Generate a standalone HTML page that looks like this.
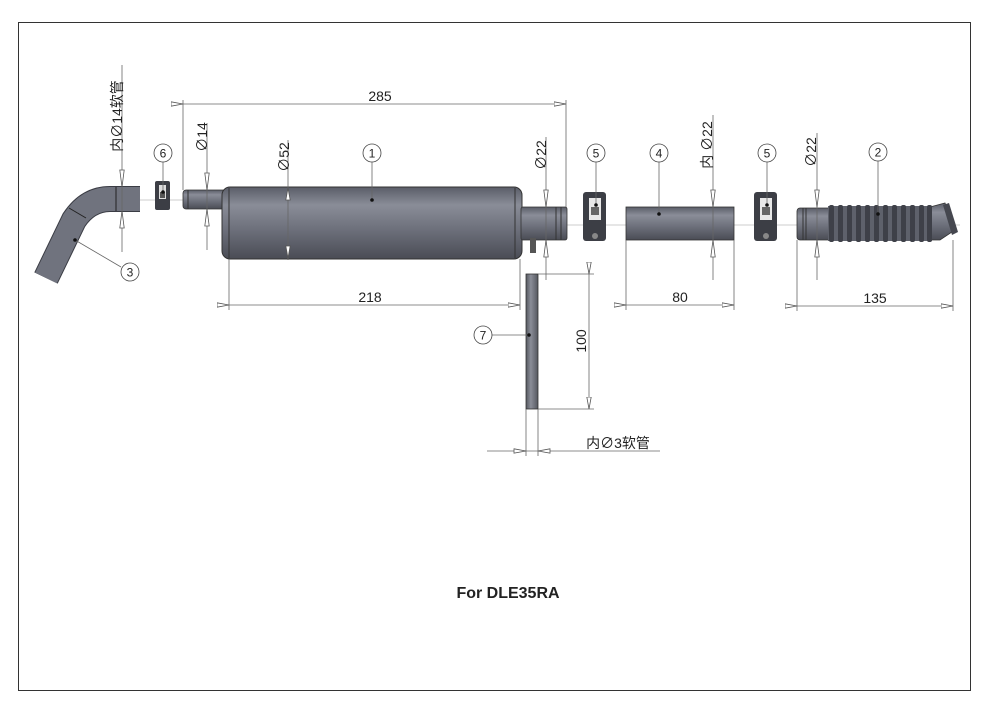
<!DOCTYPE html>
<html><head><meta charset="utf-8"><style>
html,body{margin:0;padding:0;background:#fff;}
svg{display:block;}
text{font-family:"Liberation Sans","Noto Sans CJK SC",sans-serif;fill:#222;}
</style></head><body>
<svg width="1000" height="706" viewBox="0 0 1000 706" xmlns="http://www.w3.org/2000/svg">
<defs>
<linearGradient id="g" x1="0" y1="0" x2="0" y2="1">
<stop offset="0" stop-color="#5a5d68"/><stop offset="0.25" stop-color="#8a8d98"/><stop offset="0.6" stop-color="#6c6f7a"/><stop offset="1" stop-color="#4a4c55"/>
</linearGradient>
<linearGradient id="gh" x1="0" y1="0" x2="1" y2="0">
<stop offset="0" stop-color="#55585f"/><stop offset="0.4" stop-color="#8a8d98"/><stop offset="1" stop-color="#55585f"/>
</linearGradient>
<marker id="a" viewBox="0 0 12 6" refX="12" refY="3" markerWidth="12" markerHeight="6" markerUnits="userSpaceOnUse" orient="auto">
<path d="M0,0.8 L12,3 L0,5.2 Z" fill="#fff" stroke="#555" stroke-width="0.8"/></marker>
</defs>
<rect x="18.5" y="22.5" width="952" height="668" fill="none" stroke="#333" stroke-width="1"/>

<g stroke="#bbb" stroke-width="0.8">
<line x1="140" y1="200" x2="183" y2="200"/>
<line x1="566" y1="225" x2="960" y2="225"/>
</g>

<path d="M140,199 L110,199 Q88,199 74,220 L46,278" fill="none" stroke="#3a3c44" stroke-width="26"/>
<path d="M140,199 L110,199 Q88,199 74,220 L46,278" fill="none" stroke="#70737e" stroke-width="24"/>
<line x1="116" y1="187" x2="116" y2="211" stroke="#222" stroke-width="1"/>
<line x1="69" y1="208" x2="86" y2="218" stroke="#222" stroke-width="1"/>
<rect x="155" y="181" width="15" height="29" rx="2" fill="#3c3e45"/>
<rect x="159" y="185" width="7" height="14" fill="#ddd"/>
<rect x="160" y="192" width="5" height="6" fill="#555"/>
<rect x="183" y="190" width="46" height="19" rx="3" fill="url(#g)" stroke="#333" stroke-width="0.8"/>
<line x1="188" y1="190" x2="188" y2="209" stroke="#333"/>
<rect x="222" y="187" width="300" height="72" rx="8" fill="url(#g)" stroke="#333" stroke-width="1"/>
<line x1="229" y1="188" x2="229" y2="258" stroke="#333"/>
<line x1="515" y1="188" x2="515" y2="258" stroke="#333"/>
<rect x="521" y="207" width="46" height="33" rx="2" fill="url(#g)" stroke="#333" stroke-width="0.8"/>
<line x1="556" y1="207" x2="556" y2="240" stroke="#333"/>
<line x1="561" y1="207" x2="561" y2="240" stroke="#333"/>
<rect x="530" y="238" width="6" height="15" fill="#555"/>
<g>
<rect x="583" y="192" width="23" height="49" rx="3" fill="#3c3e45"/>
<rect x="589" y="198" width="12" height="22" fill="#e8e8e8"/>
<rect x="591" y="207" width="8" height="8" fill="#666"/>
<circle cx="595" cy="236" r="3" fill="#888"/>
</g>
<g>
<rect x="754" y="192" width="23" height="49" rx="3" fill="#3c3e45"/>
<rect x="760" y="198" width="12" height="22" fill="#e8e8e8"/>
<rect x="762" y="207" width="8" height="8" fill="#666"/>
<circle cx="766" cy="236" r="3" fill="#888"/>
</g>
<rect x="626" y="207" width="108" height="33" fill="url(#g)" stroke="#333" stroke-width="0.8"/>
<rect x="797" y="208" width="35" height="32" rx="3" fill="url(#g)" stroke="#333" stroke-width="0.8"/>
<line x1="803" y1="208" x2="803" y2="240" stroke="#333"/>
<line x1="806" y1="208" x2="806" y2="240" stroke="#333"/>
<path d="M930,207 L945,203 L955,230 L940,240 L930,240 Z" fill="url(#g)" stroke="#333" stroke-width="0.8"/>
<rect x="828" y="206" width="104" height="35" fill="#5e616b"/>
<g fill="#3e4048">
<rect x="829" y="205" width="5" height="37" rx="2"/><rect x="838" y="205" width="5" height="37" rx="2"/>
<rect x="847" y="205" width="5" height="37" rx="2"/><rect x="856" y="205" width="5" height="37" rx="2"/>
<rect x="865" y="205" width="5" height="37" rx="2"/><rect x="874" y="205" width="5" height="37" rx="2"/>
<rect x="883" y="205" width="5" height="37" rx="2"/><rect x="892" y="205" width="5" height="37" rx="2"/>
<rect x="901" y="205" width="5" height="37" rx="2"/><rect x="910" y="205" width="5" height="37" rx="2"/>
<rect x="919" y="205" width="5" height="37" rx="2"/><rect x="927" y="205" width="5" height="37" rx="2"/>
</g>
<path d="M943,205 L949,203 L958,232 L952,235 Z" fill="#45474f"/>
<rect x="526" y="274" width="12" height="135" fill="url(#gh)" stroke="#333" stroke-width="0.8"/>

<g stroke="#666" stroke-width="0.8" fill="none">
<line x1="183" y1="100" x2="183" y2="190"/><line x1="566" y1="100" x2="566" y2="207"/>
<line x1="183" y1="104" x2="566" y2="104" marker-start="url(#a)" marker-end="url(#a)"/>
<line x1="229" y1="259" x2="229" y2="310"/><line x1="520" y1="259" x2="520" y2="310"/>
<line x1="229" y1="305" x2="520" y2="305" marker-start="url(#a)" marker-end="url(#a)"/>
<line x1="626" y1="240" x2="626" y2="310"/><line x1="734" y1="240" x2="734" y2="310"/>
<line x1="626" y1="305" x2="734" y2="305" marker-start="url(#a)" marker-end="url(#a)"/>
<line x1="797" y1="240" x2="797" y2="311"/><line x1="953" y1="240" x2="953" y2="311"/>
<line x1="797" y1="306" x2="953" y2="306" marker-start="url(#a)" marker-end="url(#a)"/>
<line x1="538" y1="274" x2="594" y2="274"/><line x1="538" y1="409" x2="594" y2="409"/>
<line x1="589" y1="274" x2="589" y2="409" marker-start="url(#a)" marker-end="url(#a)"/>
<line x1="526" y1="409" x2="526" y2="456"/><line x1="538" y1="409" x2="538" y2="456"/>
<line x1="487" y1="451" x2="660" y2="451"/>
<line x1="122" y1="65" x2="122" y2="252"/>
<line x1="207" y1="123" x2="207" y2="250"/>
<line x1="288" y1="140" x2="288" y2="260"/>
<line x1="546" y1="137" x2="546" y2="280"/>
<line x1="713" y1="115" x2="713" y2="280"/>
<line x1="817" y1="133" x2="817" y2="280"/>
<line x1="372" y1="162" x2="372" y2="200"/>
<line x1="878" y1="161" x2="878" y2="214"/>
<line x1="121" y1="267" x2="75" y2="240"/>
<line x1="659" y1="162" x2="659" y2="214"/>
<line x1="596" y1="162" x2="596" y2="205"/>
<line x1="767" y1="162" x2="767" y2="205"/>
<line x1="163" y1="162" x2="163" y2="192"/>
<line x1="492" y1="335" x2="529" y2="335"/>
</g>
<g fill="#fff" stroke="#555" stroke-width="0.8">
<path d="M119.8,170 L122,187 L124.2,170Z"/><path d="M119.8,228 L122,211 L124.2,228Z"/>
<path d="M204.8,173 L207,190 L209.2,173Z"/><path d="M204.8,226 L207,209 L209.2,226Z"/>
<path d="M285.8,200 L288,188 L290.2,200Z"/><path d="M285.8,246 L288,258 L290.2,246Z"/>
<path d="M543.8,190 L546,207 L548.2,190Z"/><path d="M543.8,257 L546,240 L548.2,257Z"/>
<path d="M710.8,190 L713,207 L715.2,190Z"/><path d="M710.8,257 L713,240 L715.2,257Z"/>
<path d="M814.8,190 L817,207 L819.2,190Z"/><path d="M814.8,257 L817,240 L819.2,257Z"/>
<path d="M514,448.8 L526,451 L514,453.2Z"/><path d="M550,448.8 L538,451 L550,453.2Z"/>
</g>
<g fill="#111">
<circle cx="372" cy="200" r="1.8"/><circle cx="878" cy="214" r="1.8"/><circle cx="75" cy="240" r="1.8"/>
<circle cx="659" cy="214" r="1.8"/><circle cx="596" cy="205" r="1.8"/><circle cx="767" cy="205" r="1.8"/>
<circle cx="163" cy="192" r="1.8"/><circle cx="529" cy="335" r="1.8"/>
</g>
<g fill="#fff" stroke="#444" stroke-width="0.8">
<circle cx="372" cy="153" r="9"/><circle cx="878" cy="152" r="9"/><circle cx="130" cy="272" r="9"/>
<circle cx="659" cy="153" r="9"/><circle cx="596" cy="153" r="9"/><circle cx="767" cy="153" r="9"/>
<circle cx="163" cy="153" r="9"/><circle cx="483" cy="335" r="9"/>
</g>
<g font-size="12" text-anchor="middle" style="font-family:'Liberation Serif',serif">
<text x="372" y="157.5">1</text><text x="878" y="156.5">2</text><text x="130" y="276.5">3</text>
<text x="659" y="157.5">4</text><text x="596" y="157.5">5</text><text x="767" y="157.5">5</text>
<text x="163" y="157.5">6</text><text x="483" y="339.5">7</text>
</g>
<g font-size="14" text-anchor="middle">
<text x="380" y="101">285</text>
<text x="370" y="302">218</text>
<text x="680" y="302">80</text>
<text x="875" y="303">135</text>
<text transform="translate(586,341) rotate(-90)">100</text>
<text x="618" y="448">内∅3软管</text>
<text transform="translate(207,137) rotate(-90)">∅14</text>
<text transform="translate(289,157) rotate(-90)">∅52</text>
<text transform="translate(546,155) rotate(-90)">∅22</text>
<text transform="translate(712,145) rotate(-90)">内 ∅22</text>
<text transform="translate(816,152) rotate(-90)">∅22</text>
<text transform="translate(122,116) rotate(-90)">内∅14软管</text>
</g>
<text x="508" y="598" font-size="16" font-weight="bold" text-anchor="middle" fill="#111">For  DLE35RA</text>
</svg>
</body></html>
